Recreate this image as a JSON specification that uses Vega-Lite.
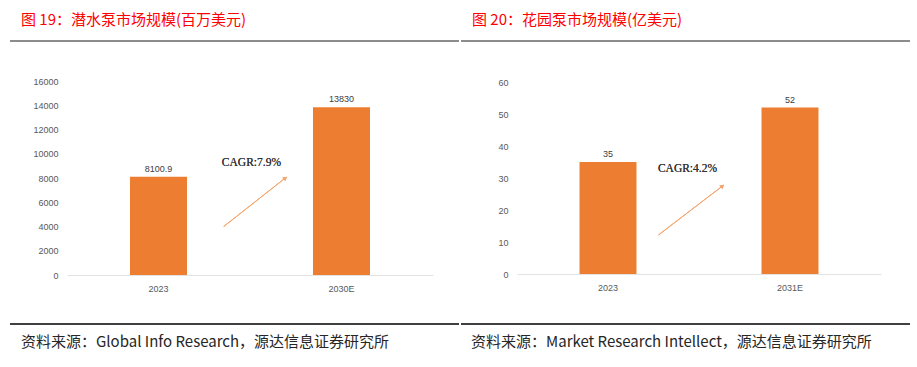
{
  "$schema": "https://vega.github.io/schema/vega-lite/v6.json",
  "background": "white",
  "padding": {"left": 9, "top": 12, "right": 0, "bottom": 0},
  "autosize": {"type": "pad"},
  "spacing": 0,
  "datasets": {
    "pump": [{"cat": "2023", "v": 8100.9}, {"cat": "2030E", "v": 13830}],
    "garden": [{"cat": "2023", "v": 35}, {"cat": "2031E", "v": 52}]
  },
  "vconcat": [
    {
      "spacing": 0,
      "hconcat": [
        {
          "title": {"text": "图 19：潜水泵市场规模(百万美元)"},
          "width": 449,
          "height": 281,
          "data": {"name": "pump"},
          "view": {"stroke": "#8c8c8c", "strokeWidth": 2, "strokeDash": [449, 3000]},
          "layer": [
            {
              "mark": {"type": "bar", "color": "#ED7D31"},
              "encoding": {
                "x": {"field": "cat", "type": "nominal", "sort": null,
                  "scale": {"range": [57, 423], "paddingInner": 0.6885, "paddingOuter": 0.34425},
                  "axis": {"orient": "bottom", "offset": -47, "domainColor": "#e3e3e3", "domainWidth": 1, "ticks": false, "labelPadding": 9, "labelAngle": 0, "title": null, "grid": false}},
                "y": {"field": "v", "type": "quantitative",
                  "scale": {"domain": [0, 16000], "range": [234, 40], "nice": false},
                  "axis": {"orient": "left", "offset": -57, "values": [0, 2000, 4000, 6000, 8000, 10000, 12000, 14000, 16000], "tickCount": 20, "format": "d", "labelOverlap": false, "domain": false, "ticks": false, "grid": false, "labelPadding": 9, "title": null}}
              }
            },
            {
              "mark": {"type": "text", "baseline": "middle", "dy": -8, "font": "Liberation Sans", "fontSize": 9, "color": "#404040"},
              "encoding": {
                "x": {"field": "cat", "type": "nominal", "sort": null},
                "y": {"field": "v", "type": "quantitative"},
                "text": {"field": "v", "type": "quantitative", "format": "~g"}
              }
            },
            {
              "mark": {"type": "rule", "color": "#F4A46A", "strokeWidth": 1},
              "encoding": {
                "x": {"datum": "2023", "type": "nominal", "bandPosition": 1.644},
                "x2": {"datum": "2023", "bandPosition": 2.725},
                "y": {"datum": 4000, "type": "quantitative"},
                "y2": {"datum": 8000}
              }
            },
            {
              "mark": {"type": "point", "shape": "triangle-up", "angle": 52, "size": 22, "filled": true, "color": "#F4A46A", "opacity": 1},
              "encoding": {
                "x": {"datum": "2023", "type": "nominal", "bandPosition": 2.725},
                "y": {"datum": 8000, "type": "quantitative"}
              }
            },
            {
              "mark": {"type": "text", "text": "CAGR:7.9%", "font": "Liberation Serif", "fontSize": 11.5, "fontWeight": "normal", "color": "#333333", "baseline": "middle", "align": "center"},
              "encoding": {
                "x": {"datum": "2023", "type": "nominal", "bandPosition": 2.13},
                "y": {"datum": 9200, "type": "quantitative"}
              }
            }
          ]
        },
        {
          "title": {"text": "图 20：花园泵市场规模(亿美元)"},
          "width": 449,
          "height": 281,
          "data": {"name": "garden"},
          "view": {"stroke": "#8c8c8c", "strokeWidth": 2, "strokeDash": [449, 3000]},
          "layer": [
            {
              "mark": {"type": "bar", "color": "#ED7D31"},
              "encoding": {
                "x": {"field": "cat", "type": "nominal", "sort": null,
                  "scale": {"range": [56, 420], "paddingInner": 0.687, "paddingOuter": 0.3435},
                  "axis": {"orient": "bottom", "offset": -48, "domainColor": "#e3e3e3", "domainWidth": 1, "ticks": false, "labelPadding": 9, "labelAngle": 0, "title": null, "grid": false}},
                "y": {"field": "v", "type": "quantitative",
                  "scale": {"domain": [0, 60], "range": [233, 41], "nice": false},
                  "axis": {"orient": "left", "offset": -56, "values": [0, 10, 20, 30, 40, 50, 60], "tickCount": 20, "format": "d", "labelOverlap": false, "domain": false, "ticks": false, "grid": false, "labelPadding": 9, "title": null}}
              }
            },
            {
              "mark": {"type": "text", "baseline": "middle", "dy": -8, "font": "Liberation Sans", "fontSize": 9, "color": "#404040"},
              "encoding": {
                "x": {"field": "cat", "type": "nominal", "sort": null},
                "y": {"field": "v", "type": "quantitative"},
                "text": {"field": "v", "type": "quantitative", "format": "~g"}
              }
            },
            {
              "mark": {"type": "rule", "color": "#F4A46A", "strokeWidth": 1},
              "encoding": {
                "x": {"datum": "2023", "type": "nominal", "bandPosition": 1.386},
                "x2": {"datum": "2023", "bandPosition": 2.51},
                "y": {"datum": 12.2, "type": "quantitative"},
                "y2": {"datum": 27.5}
              }
            },
            {
              "mark": {"type": "point", "shape": "triangle-up", "angle": 52, "size": 22, "filled": true, "color": "#F4A46A", "opacity": 1},
              "encoding": {
                "x": {"datum": "2023", "type": "nominal", "bandPosition": 2.51},
                "y": {"datum": 27.5, "type": "quantitative"}
              }
            },
            {
              "mark": {"type": "text", "text": "CAGR:4.2%", "font": "Liberation Serif", "fontSize": 11.5, "fontWeight": "normal", "color": "#333333", "baseline": "middle", "align": "center"},
              "encoding": {
                "x": {"datum": "2023", "type": "nominal", "bandPosition": 1.895},
                "y": {"datum": 32.7, "type": "quantitative"}
              }
            }
          ]
        }
      ]
    },
    {
      "spacing": 0,
      "hconcat": [
        {
          "title": {"text": "资料来源：Global Info Research，源达信息证券研究所", "orient": "bottom", "fontSize": 15, "color": "#262626", "offset": 10},
          "width": 449,
          "height": 1,
          "data": {"values": [{}]},
          "view": {"stroke": "#404040", "strokeWidth": 2, "strokeDash": [449, 3000]},
          "mark": {"type": "point", "opacity": 0, "size": 0},
          "encoding": {}
        },
        {
          "title": {"text": "资料来源：Market Research Intellect，源达信息证券研究所", "orient": "bottom", "fontSize": 15, "color": "#262626", "offset": 10, "dx": 10},
          "width": 449,
          "height": 1,
          "data": {"values": [{}]},
          "view": {"stroke": "#404040", "strokeWidth": 2, "strokeDash": [449, 3000]},
          "mark": {"type": "point", "opacity": 0, "size": 0},
          "encoding": {}
        }
      ]
    }
  ],
  "config": {
    "title": {"anchor": "start", "dx": 11, "offset": 13, "font": "Noto Sans CJK SC", "fontSize": 15, "fontWeight": "normal", "color": "#FF0000"},
    "axis": {
      "labelFont": "Liberation Sans", "labelFontSize": 9, "labelColor": "#595959"
    }
  }
}
